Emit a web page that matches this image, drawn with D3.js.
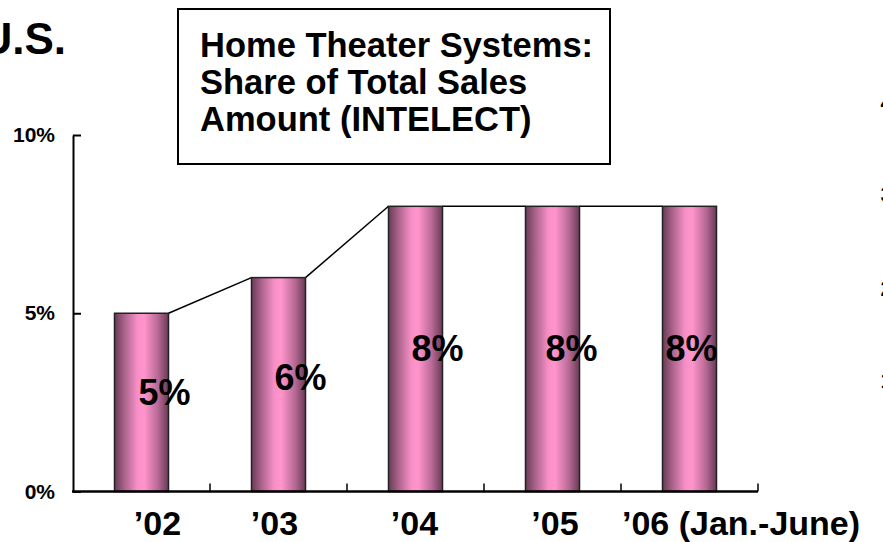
<!DOCTYPE html>
<html><head><meta charset="utf-8">
<script src="https://cdn.jsdelivr.net/npm/d3@7/dist/d3.min.js"></script>
<style>
html,body{margin:0;padding:0;background:#fff;overflow:hidden}
svg{display:block;font-family:"Liberation Sans",Arial,sans-serif;font-weight:bold}
</style></head>
<body>
<svg id="c" width="883" height="542"></svg>
<script>
// ---- data ----
const categories = ["\u201902", "\u201903", "\u201904", "\u201905", "\u201906 (Jan.-June)"];
const values = [5, 6, 8, 8, 8];
const valueLabels = ["5%", "6%", "8%", "8%", "8%"];
const yTicks = [0, 5, 10];
const yTickLabels = ["0%", "5%", "10%"];
const titleLines = ["Home Theater Systems:", "Share of Total Sales", "Amount (INTELECT)"];
const regionLabel = "U.S.";
const edgeFragments = ["4", "3", "2", "1"];

// ---- layout ----
const plotL = 73, plotR = 758, plotT = 135, plotB = 491.5;
const labelDx = [23, 22, 22, 19, 2];
const catLabelDx = [16, -4, -1, 2.5, 0];

const svg = d3.select("#c");

const x = d3.scaleBand().domain(categories).range([plotL, plotR]).paddingInner(0).paddingOuter(0);
const y = d3.scaleLinear().domain([0, 10]).range([plotB, plotT]);
const barW = 54;

// gradient
const defs = svg.append("defs");
const g = defs.append("linearGradient").attr("id", "cyl").attr("x1", "0").attr("x2", "1").attr("y1", "0").attr("y2", "0");
[[0, "#6a3a55"], [0.18, "#a8628a"], [0.42, "#f78fc6"], [0.55, "#ff95cb"], [0.8, "#b86a96"], [1, "#6a3a55"]]
  .forEach(([o, c]) => g.append("stop").attr("offset", o).attr("stop-color", c));

// connecting lines between bar tops
const segs = [];
for (let i = 0; i < values.length - 1; i++) {
  const c0 = x(categories[i]) + x.bandwidth() / 2 + barW / 2;
  const c1 = x(categories[i + 1]) + x.bandwidth() / 2 - barW / 2;
  segs.push([[c0, y(values[i])], [c1, y(values[i + 1])]]);
}
svg.append("g").selectAll("line").data(segs).join("line")
  .attr("x1", d => d[0][0]).attr("y1", d => d[0][1])
  .attr("x2", d => d[1][0]).attr("y2", d => d[1][1])
  .attr("stroke", "#000").attr("stroke-width", 1.5);

// bars
svg.append("g").selectAll("rect").data(values).join("rect")
  .attr("x", (d, i) => x(categories[i]) + x.bandwidth() / 2 - barW / 2)
  .attr("y", d => y(d))
  .attr("width", barW)
  .attr("height", d => plotB - y(d))
  .attr("fill", "url(#cyl)")
  .attr("stroke", "#222").attr("stroke-width", 1.5);

// value labels
svg.append("g").selectAll("text").data(values).join("text")
  .attr("x", (d, i) => x(categories[i]) + x.bandwidth() / 2 + labelDx[i])
  .attr("y", d => y(0.72 + 0.413 * d))
  .attr("dy", "0.36em")
  .attr("text-anchor", "middle")
  .attr("font-size", 36)
  .attr("fill", "#000")
  .text((d, i) => valueLabels[i]);

// y axis
const yAxis = d3.axisLeft(y).tickValues(yTicks).tickSizeInner(-8).tickSizeOuter(0).tickPadding(18)
  .tickFormat((d, i) => yTickLabels[i]);
const ya = svg.append("g").attr("transform", `translate(${plotL},0)`).call(yAxis);
ya.select(".domain").attr("stroke", "#000").attr("stroke-width", 2);
ya.selectAll(".tick line").attr("stroke", "#000").attr("stroke-width", 2);
ya.selectAll(".tick text").attr("font-size", 21).attr("font-family", "Liberation Sans, Arial, sans-serif")
  .attr("font-weight", "bold").attr("fill", "#000");

// x axis line and boundary ticks
svg.append("line").attr("x1", plotL - 1).attr("x2", plotR).attr("y1", plotB).attr("y2", plotB)
  .attr("stroke", "#000").attr("stroke-width", 2.5);
svg.append("g").selectAll("line").data(categories).join("line")
  .attr("x1", d => x(d) + x.bandwidth()).attr("x2", d => x(d) + x.bandwidth())
  .attr("y1", plotB).attr("y2", plotB - 8)
  .attr("stroke", "#000").attr("stroke-width", 1.5);

// category labels
svg.append("g").selectAll("text").data(categories).join("text")
  .attr("x", (d, i) => i === categories.length - 1 ? x(d) + 1 : x(d) + x.bandwidth() / 2 + catLabelDx[i])
  .attr("y", 535)
  .attr("text-anchor", (d, i) => i === categories.length - 1 ? "start" : "middle")
  .attr("font-size", 34)
  .attr("fill", "#000")
  .text(d => d);

// title box
svg.append("rect").attr("x", 178).attr("y", 9).attr("width", 432).attr("height", 155)
  .attr("fill", "#fff").attr("stroke", "#000").attr("stroke-width", 2);
svg.append("g").selectAll("text").data(titleLines).join("text")
  .attr("x", 200).attr("y", (d, i) => 57 + i * 37)
  .attr("font-size", 34.5).attr("fill", "#000")
  .text(d => d);

// region label
svg.append("text").attr("x", 66).attr("y", 54).attr("text-anchor", "end")
  .attr("font-size", 44).attr("fill", "#000").text(regionLabel);

// cropped fragments of neighbouring chart at right edge
svg.append("g").selectAll("text").data(edgeFragments).join("text")
  .attr("x", 880.5).attr("y", (d, i) => [110, 202, 296, 388][i])
  .attr("font-size", 22).attr("fill", "#000").text(d => d);
</script>
</body></html>
